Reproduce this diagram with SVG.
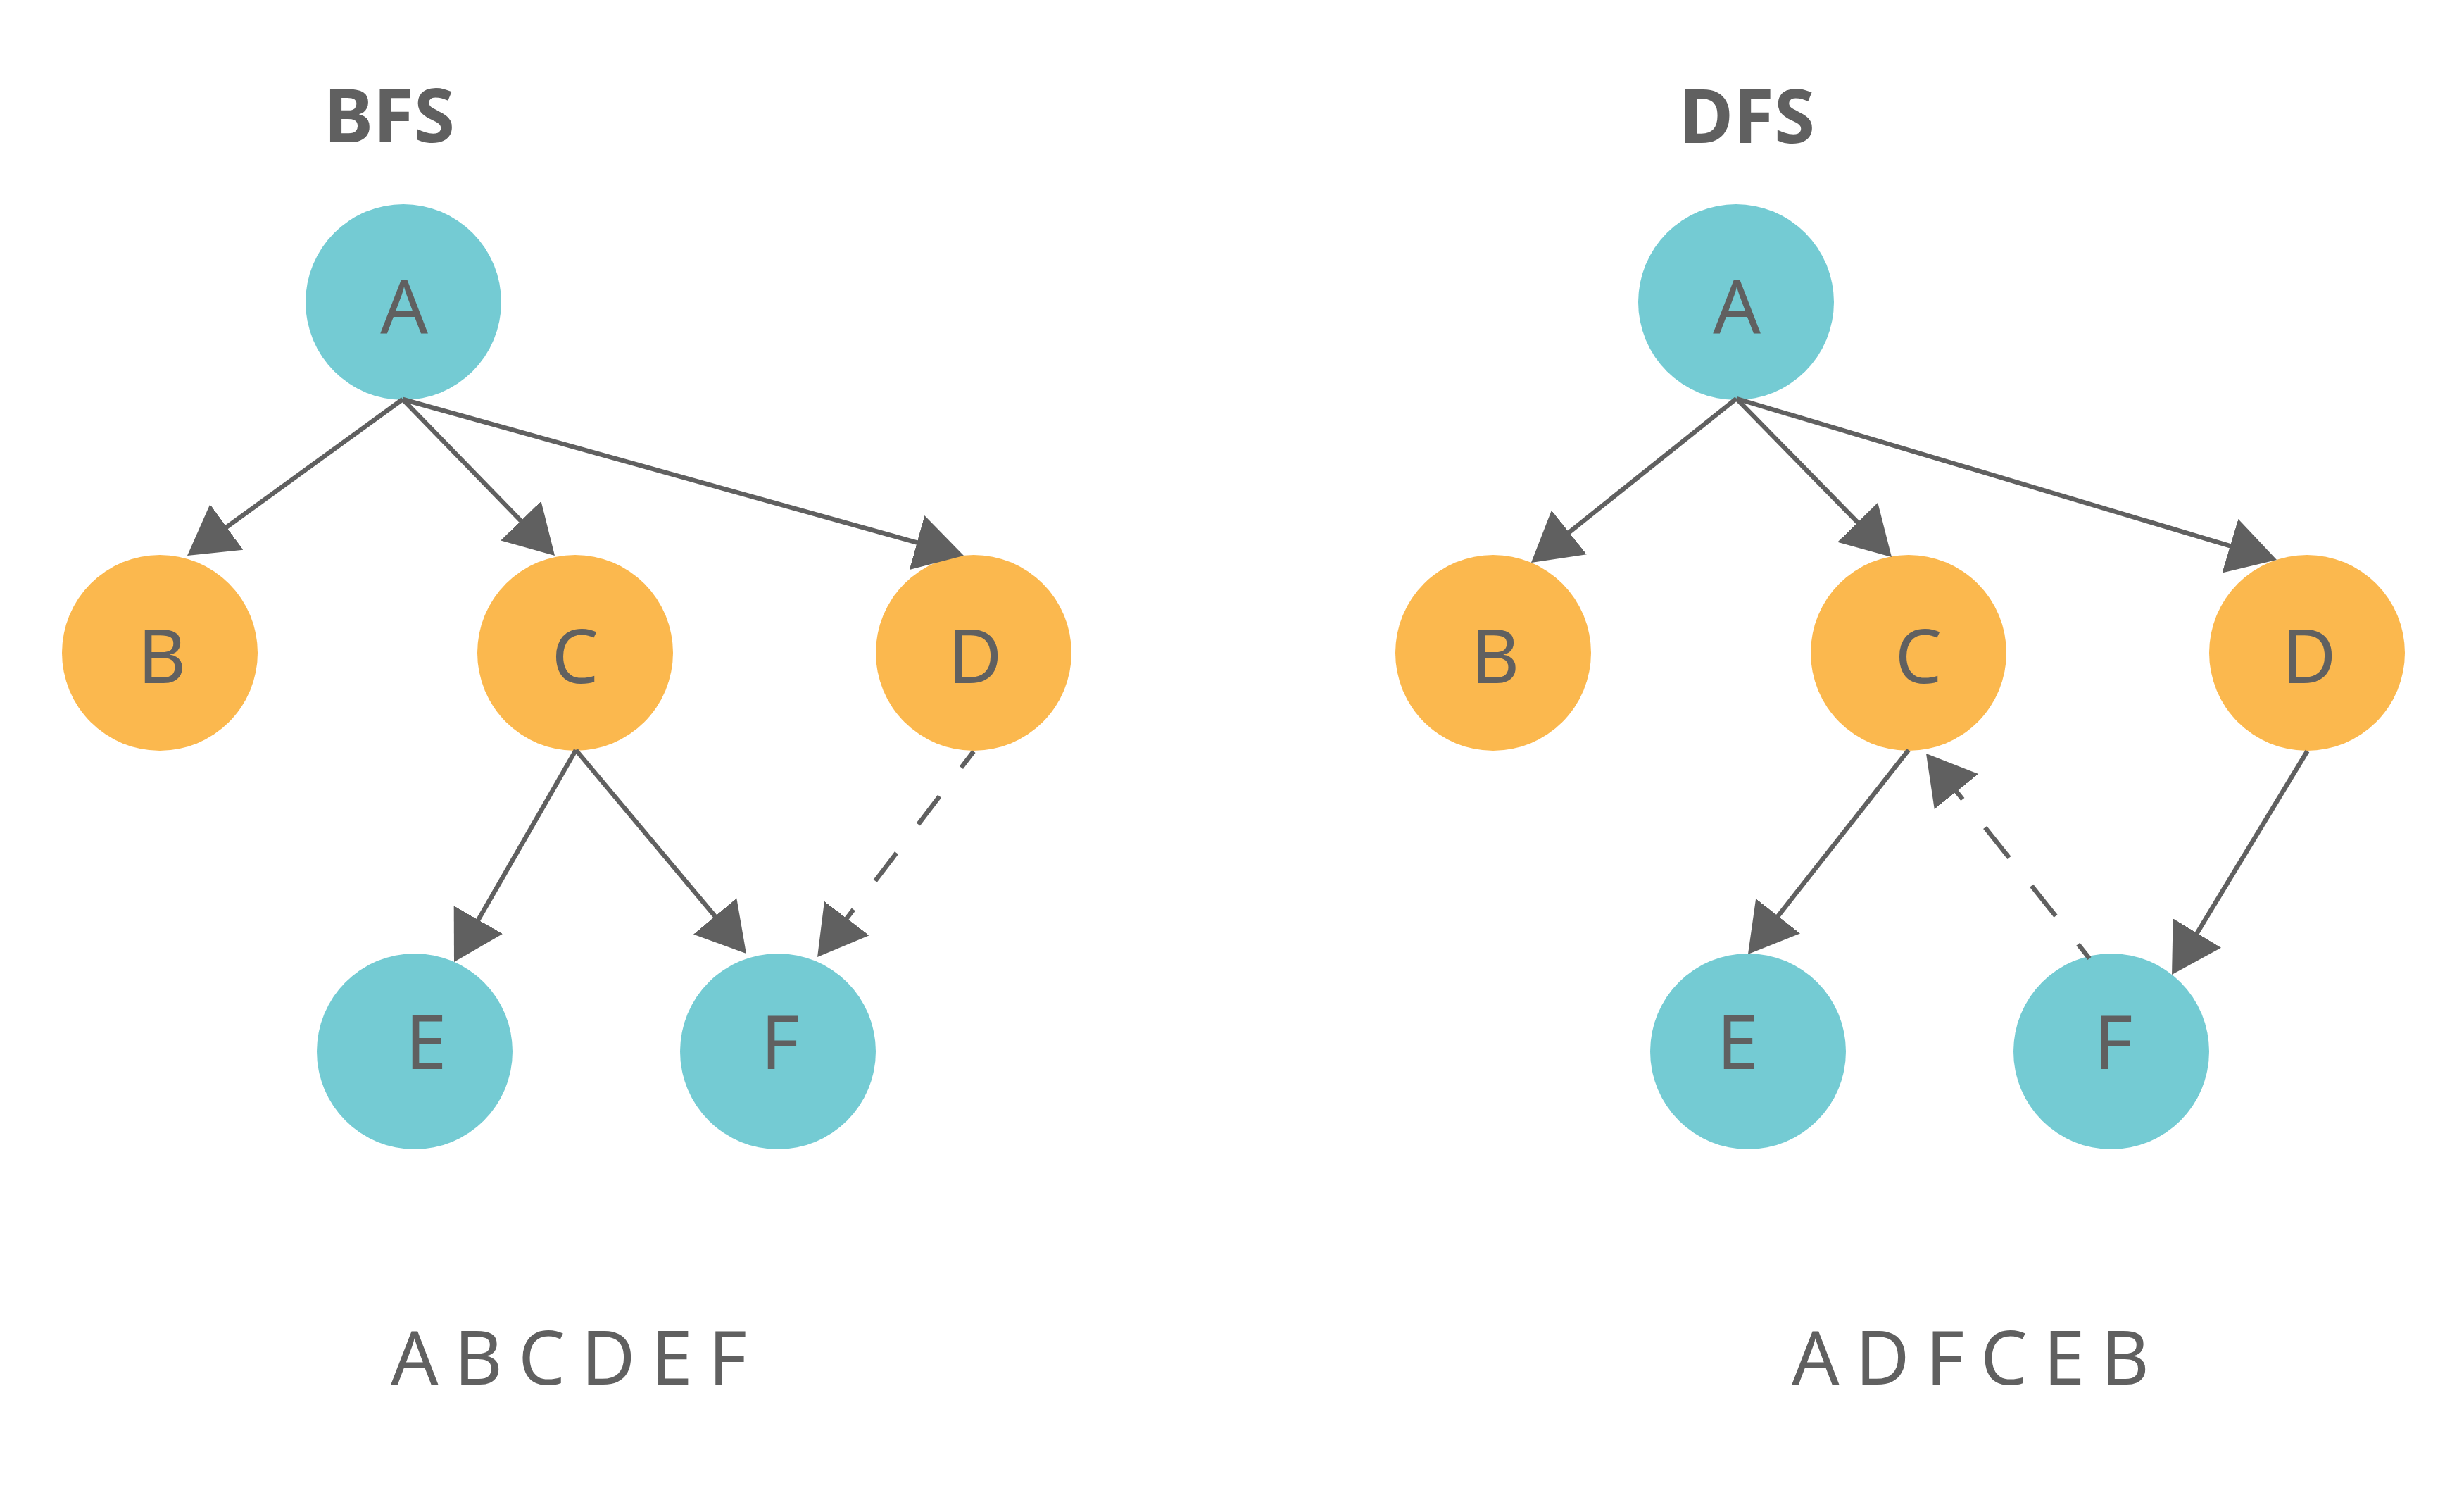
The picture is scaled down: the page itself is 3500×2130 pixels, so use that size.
<svg xmlns="http://www.w3.org/2000/svg" width="3500" height="2130" viewBox="0 0 3500 2130">
<defs>
<style>
.teal{fill:#74CBD3}
.orange{fill:#FBB84E}
.lbl{font-family:"Noto Sans","Open Sans","Liberation Sans",sans-serif;font-size:106px;fill:#606060;text-anchor:middle}
.seq{font-family:"Noto Sans","Open Sans","Liberation Sans",sans-serif;font-size:106px;fill:#606060}
.title{font-family:"Noto Sans","Open Sans","Liberation Sans",sans-serif;font-size:106px;font-weight:bold;fill:#606060}
.edge{stroke:#606060;stroke-width:6.5;fill:none;marker-end:url(#arr)}
.dash1{stroke-dasharray:50 51;stroke-dashoffset:21}
.dash2{stroke-dasharray:55 51;stroke-dashoffset:29}
</style>
<marker id="arr" markerUnits="userSpaceOnUse" markerWidth="70" markerHeight="82" viewBox="0 0 70 82" refX="39" refY="41" orient="auto">
<path d="M0,1 L69,41 L0,81 Z" fill="#606060"/>
</marker>
</defs>
<rect width="3500" height="2130" fill="#ffffff"/>
<text class="title" x="460" y="202" textLength="186" lengthAdjust="spacingAndGlyphs">BFS</text>
<text class="title" x="2385" y="203" textLength="193" lengthAdjust="spacingAndGlyphs">DFS</text>
<g id="bfs-A"><circle class="teal" cx="573" cy="429" r="139"/><text class="lbl" x="574" y="473">A</text></g>
<g id="bfs-B"><circle class="orange" cx="227" cy="927" r="139"/><text class="lbl" x="230" y="970">B</text></g>
<g id="bfs-C"><circle class="orange" cx="817" cy="927" r="139"/><text class="lbl" x="817" y="970">C</text></g>
<g id="bfs-D"><circle class="orange" cx="1383" cy="927" r="139"/><text class="lbl" x="1385" y="970">D</text></g>
<g id="bfs-E"><circle class="teal" cx="589" cy="1493" r="139"/><text class="lbl" x="605" y="1518">E</text></g>
<g id="bfs-F"><circle class="teal" cx="1105" cy="1493" r="139"/><text class="lbl" x="1108" y="1518">F</text></g>
<g id="dfs-A"><circle class="teal" cx="2466" cy="429" r="139"/><text class="lbl" x="2467" y="473">A</text></g>
<g id="dfs-B"><circle class="orange" cx="2121" cy="927" r="139"/><text class="lbl" x="2124" y="970">B</text></g>
<g id="dfs-C"><circle class="orange" cx="2711" cy="927" r="139"/><text class="lbl" x="2725" y="970">C</text></g>
<g id="dfs-D"><circle class="orange" cx="3277" cy="927" r="139"/><text class="lbl" x="3280" y="970">D</text></g>
<g id="dfs-E"><circle class="teal" cx="2483" cy="1493" r="139"/><text class="lbl" x="2468" y="1518">E</text></g>
<g id="dfs-F"><circle class="teal" cx="2999" cy="1493" r="139"/><text class="lbl" x="3002" y="1518">F</text></g>
<g id="connectors">
<line class="edge" x1="572" y1="567" x2="290.3" y2="771.4"/>
<line class="edge" x1="572" y1="567" x2="767.1" y2="767.5"/>
<line class="edge" x1="572" y1="567" x2="1340.1" y2="780.95"/>
<line class="edge" x1="818" y1="1065" x2="659.95" y2="1340"/>
<line class="edge" x1="818" y1="1065" x2="1040.7" y2="1331"/>
<line class="edge dash1" x1="1383" y1="1067" x2="1179.2" y2="1335.1"/>
<line class="edge" x1="2466.5" y1="566" x2="2198.4" y2="780.3"/>
<line class="edge" x1="2466.5" y1="566" x2="2666" y2="769.6"/>
<line class="edge" x1="2466.5" y1="566" x2="3205.25" y2="786.4"/>
<line class="edge" x1="2711" y1="1065" x2="2501.5" y2="1331.4"/>
<line class="edge" x1="3277.5" y1="1066.5" x2="3100.6" y2="1358.35"/>
<line class="edge dash2" x1="2968" y1="1361" x2="2754.7" y2="1093.45"/>
</g>
<text class="seq" x="555" y="1966" textLength="506" lengthAdjust="spacing">A B C D E F</text>
<text class="seq" x="2545" y="1966" textLength="508" lengthAdjust="spacing">A D F C E B</text>
</svg>
